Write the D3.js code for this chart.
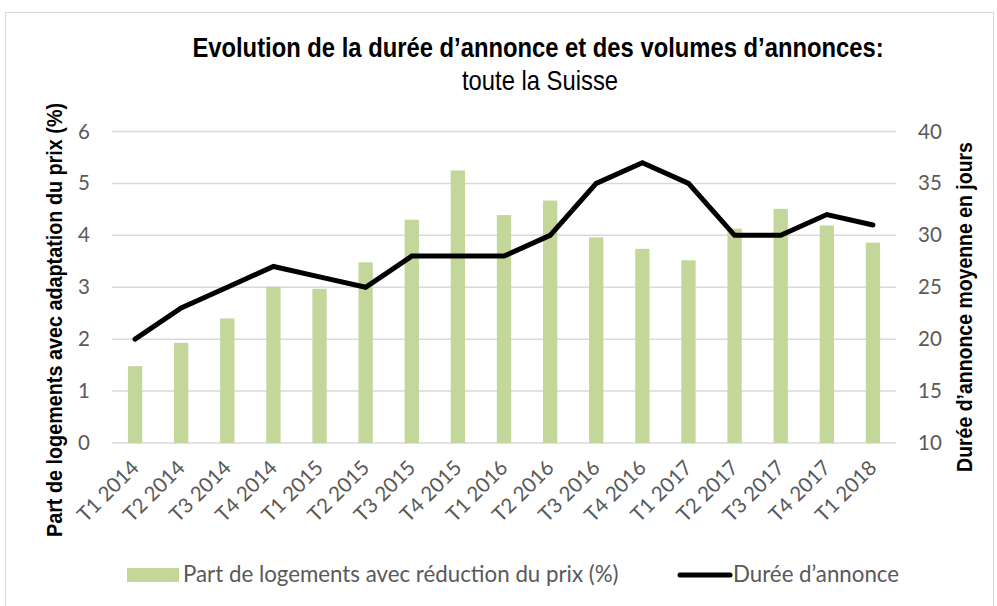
<!DOCTYPE html>
<html><head><meta charset="utf-8">
<script src="https://cdn.jsdelivr.net/npm/d3@7"></script>
<style>body{margin:0;background:#fff}svg{display:block}</style>
</head><body>
<script>
const categories = ["T1 2014","T2 2014","T3 2014","T4 2014","T1 2015","T2 2015","T3 2015","T4 2015","T1 2016","T2 2016","T3 2016","T4 2016","T1 2017","T2 2017","T3 2017","T4 2017","T1 2018"];
const reductionShare = [1.48,1.93,2.40,3.01,2.97,3.48,4.30,5.25,4.39,4.67,3.96,3.74,3.52,4.13,4.51,4.19,3.86];
const listingDuration = [20,23,25,27,26,25,28,28,28,30,35,37,35,30,30,32,31];
const leftTicks = [0,1,2,3,4,5,6];
const rightTicks = [10,15,20,25,30,35,40];

const W = 997, H = 606;
const m = {left:112, right:896, top:131.5, bottom:443};
const svg = d3.select("body").append("svg").attr("width",W).attr("height",H);
svg.append("rect").attr("x",5.5).attr("y",12.5).attr("width",988).attr("height",600).attr("fill","none").attr("stroke","#d9d9d9");

const x = d3.scaleBand().domain(categories).range([m.left,m.right]).paddingInner(0.69).paddingOuter(0.345);
const yL = d3.scaleLinear().domain([0,6]).range([m.bottom,m.top]);
const yR = d3.scaleLinear().domain([10,40]).range([m.bottom,m.top]);

const sans = "'Liberation Sans',Arial,sans-serif";
const tickFont = "Lato,'Open Sans',sans-serif";

// gridlines
svg.append("g").selectAll("line").data(leftTicks).join("line")
  .attr("x1",m.left).attr("x2",m.right).attr("y1",d=>yL(d)).attr("y2",d=>yL(d))
  .attr("stroke","#d9d9d9").attr("stroke-width",1.5);

// axes
const axL = svg.append("g").attr("transform",`translate(${m.left},0)`)
  .call(d3.axisLeft(yL).tickValues(leftTicks).tickFormat(d3.format("d")).tickSize(0).tickPadding(22));
const axR = svg.append("g").attr("transform",`translate(${m.right},0)`)
  .call(d3.axisRight(yR).tickValues(rightTicks).tickFormat(d3.format("d")).tickSize(0).tickPadding(22));
[axL,axR].forEach(a=>{a.select(".domain").remove();a.selectAll("text").attr("font-family",tickFont).attr("font-size",20.5).attr("fill","#595959");});

const axB = svg.append("g").attr("transform",`translate(0,${m.bottom})`)
  .call(d3.axisBottom(x).tickSize(0).tickPadding(0));
axB.select(".domain").remove();
axB.selectAll("text").attr("font-family",tickFont).attr("font-size",20.5).attr("fill","#595959")
  .attr("text-anchor","end").attr("dy",null).attr("y",null)
  .attr("transform","translate(5,26) rotate(-45)");

// bars
svg.append("g").selectAll("rect").data(categories).join("rect")
  .attr("x",d=>x(d)).attr("width",x.bandwidth())
  .attr("y",(d,i)=>yL(reductionShare[i])).attr("height",(d,i)=>m.bottom-yL(reductionShare[i]))
  .attr("fill","#c4d79b");

// line
const line = d3.line().x((d,i)=>x(categories[i])+x.bandwidth()/2).y(d=>yR(d));
svg.append("path").datum(listingDuration).attr("d",line).attr("fill","none")
  .attr("stroke","#000").attr("stroke-width",5).attr("stroke-linejoin","miter").attr("stroke-linecap","round");

// titles
svg.append("text").attr("transform","translate(538,57) scale(0.85,1)").attr("text-anchor","middle")
  .attr("font-family",sans).attr("font-weight","bold").attr("font-size",28).attr("fill","#000")
  .text("Evolution de la durée d’annonce et des volumes d’annonces:");
svg.append("text").attr("transform","translate(540,90) scale(0.85,1)").attr("text-anchor","middle")
  .attr("font-family",sans).attr("font-size",28).attr("fill","#000")
  .text("toute la Suisse");

svg.append("text").attr("transform","translate(62,320) rotate(-90) scale(0.9,1)").attr("text-anchor","middle")
  .attr("font-family",sans).attr("font-weight","bold").attr("font-size",22).attr("fill","#000")
  .text("Part de logements avec adaptation du prix (%)");
svg.append("text").attr("transform","translate(972,307) rotate(-90) scale(0.885,1)").attr("text-anchor","middle")
  .attr("font-family",sans).attr("font-weight","bold").attr("font-size",22).attr("fill","#000")
  .text("Durée d’annonce moyenne en jours");

// legend
const lg = svg.append("g");
lg.append("rect").attr("x",127).attr("y",568).attr("width",52).attr("height",14).attr("fill","#c4d79b");
lg.append("text").attr("x",183).attr("y",582).attr("font-family",tickFont).attr("font-size",22.3).attr("fill","#595959")
  .text("Part de logements avec réduction du prix (%)");
lg.append("line").attr("x1",680).attr("x2",730).attr("y1",575).attr("y2",575).attr("stroke","#000").attr("stroke-width",5).attr("stroke-linecap","round");
lg.append("text").attr("x",733).attr("y",582).attr("font-family",tickFont).attr("font-size",22.3).attr("fill","#595959")
  .text("Durée d’annonce");
</script>
</body></html>
